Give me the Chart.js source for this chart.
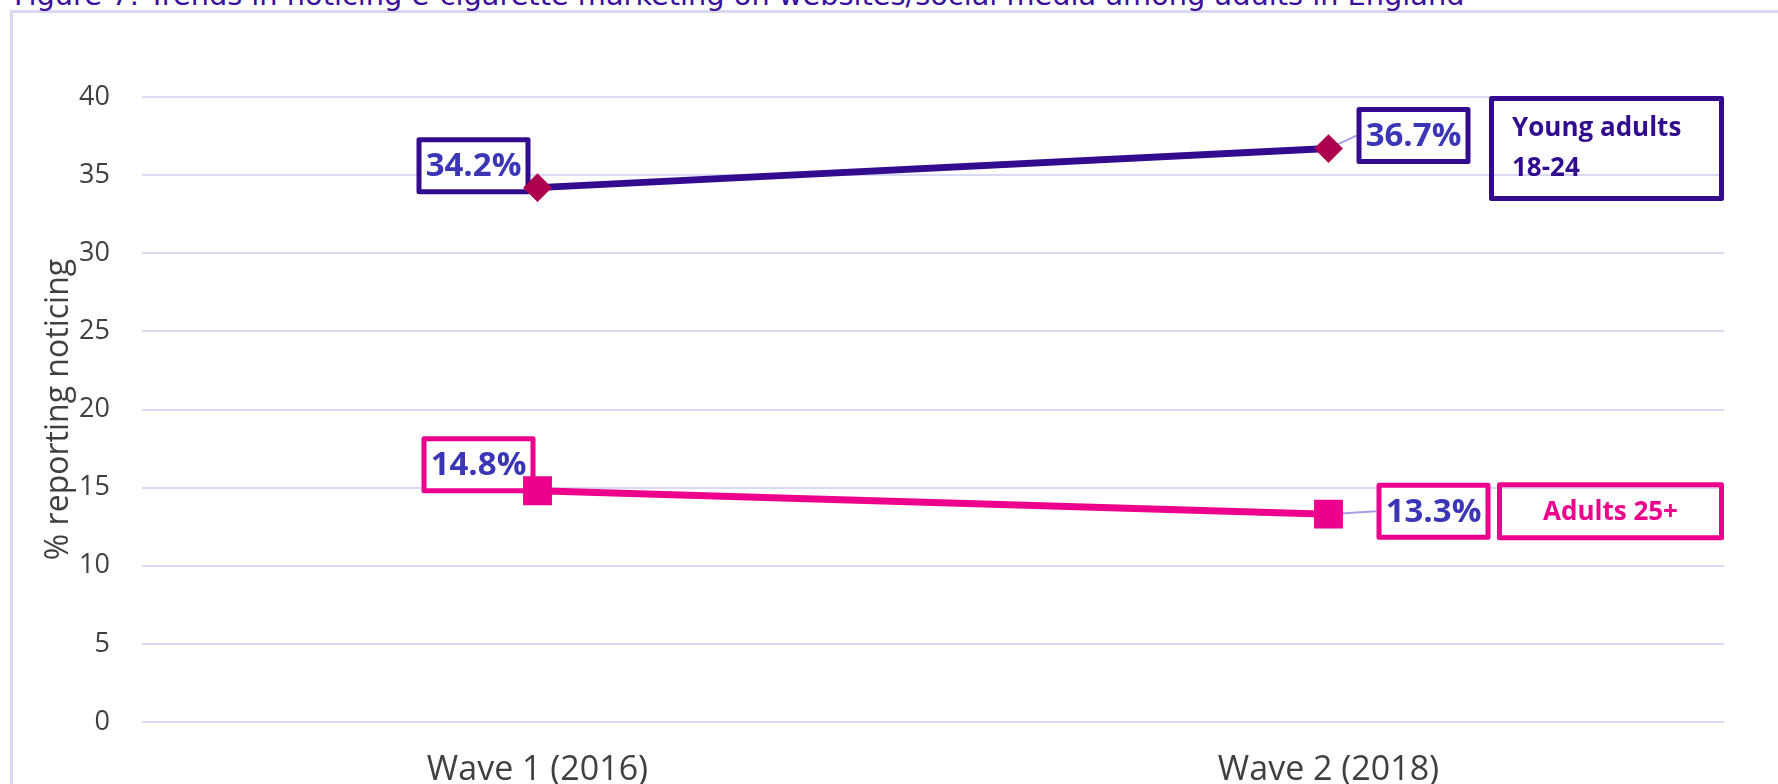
<!DOCTYPE html>
<html>
<head>
<meta charset="utf-8">
<script src="https://cdn.jsdelivr.net/npm/chart.js@4.4.1/dist/chart.umd.min.js"></script>
<style>
  html, body { margin: 0; padding: 0; background: #fff; overflow: hidden; }
  #page { position: relative; width: 1778px; height: 784px; overflow: hidden; }
  #frame { position: absolute; left: 10px; top: 10px; width: 1800px; height: 800px;
           border-left: 3px solid #d9d7f2; border-top: 3px solid #d9d7f2; }
  #figTitle { position: absolute; left: 14px; white-space: nowrap; color: #3a0f9c;
              font-family: 'DejaVu Sans'; }
  canvas { position: absolute; left: 0; top: 0; }
</style>
</head>
<body>
<div id="page">
  <div id="frame"></div>
  <div id="figTitle">Figure 7: Trends in noticing e-cigarette marketing on websites/social media among adults in England</div>
  <canvas id="trendChart" width="1778" height="784"></canvas>
</div>
<script>
// data
const waves = ['Wave 1 (2016)', 'Wave 2 (2018)'];
const youngAdults = [34.2, 36.7];
const adults25 = [14.8, 13.3];
const seriesNames = [['Young adults', '18-24'], ['Adults 25+']];
const yMin = 0, yMax = 40, yStep = 5;

const purple = '#330b8f';
const pink = '#ec008c';
const valueBlue = '#3b36b6';

// fit the (clipped) figure title to the width it has in the reference
function fitTitle() {
  const el = document.getElementById('figTitle');
  const c = document.createElement('canvas').getContext('2d');
  c.font = '28px "DejaVu Sans"';
  const w = c.measureText(el.textContent).width;
  const size = 28 * 1451 / w;
  el.style.fontSize = size + 'px';
  el.style.lineHeight = size + 'px';
  // baseline sits just above the frame, top half of the text is cut off
  el.style.top = (5 - (0.928 - 0.082) * size) + 'px';
}
fitTitle();

function drawBox(ctx, x, y, w, h, color, fill) {
  ctx.save();
  ctx.lineWidth = 5;
  ctx.strokeStyle = color;
  ctx.lineJoin = 'round';
  ctx.beginPath();
  ctx.rect(x + 2.5, y + 2.5, w - 5, h - 5);
  if (fill) { ctx.fillStyle = '#fff'; ctx.fill(); }
  ctx.stroke();
  ctx.restore();
}

// value boxes, leader lines and series name boxes (drawn under the markers)
const labelBoxes = {
  id: 'labelBoxes',
  beforeDatasetsDraw(chart) {
    const ctx = chart.ctx;
    const area = chart.chartArea;
    // offsets of each value box centre from its point: [dataset][index]
    const offsets = [
      [[-64, -22], [85, -13]],
      [[-59, -26], [105, -3]]
    ];
    const bw = 114, bh = 57;
    chart.data.datasets.forEach((ds, di) => {
      const meta = chart.getDatasetMeta(di);
      meta.data.forEach((pt, i) => {
        const cx = pt.x + offsets[di][i][0];
        const cy = pt.y + offsets[di][i][1];
        if (i === 1) {
          // leader line from the point to the box
          ctx.save();
          ctx.strokeStyle = '#a3a0e2';
          ctx.lineWidth = 2;
          ctx.beginPath();
          ctx.moveTo(pt.x, pt.y);
          ctx.lineTo(cx - bw / 2, cy);
          ctx.stroke();
          ctx.restore();
        }
        drawBox(ctx, cx - bw / 2, cy - bh / 2, bw, bh, ds.borderColor, true);
        ctx.save();
        ctx.fillStyle = valueBlue;
        ctx.font = 'bold 33px "Open Sans"';
        ctx.textAlign = 'center';
        ctx.textBaseline = 'middle';
        ctx.fillText(ds.data[i].toFixed(1) + '%', cx, cy + 1);
        ctx.restore();
      });

      // series name box at the right end of the line
      const last = meta.data[meta.data.length - 1];
      const lines = seriesNames[di];
      ctx.save();
      ctx.fillStyle = ds.borderColor;
      ctx.font = 'bold 26px "Open Sans"';
      if (lines.length > 1) {
        const w = 235, h = 105;
        const x = area.right - w, y = last.y - h / 2;
        drawBox(ctx, x, y, w, h, ds.borderColor, false);
        ctx.textAlign = 'left';
        ctx.textBaseline = 'alphabetic';
        lines.forEach((t, k) => ctx.fillText(t, x + 23, y + 40 + k * 40));
      } else {
        const w = 227, h = 58;
        const x = area.right - w, y = last.y - 3 - h / 2;
        drawBox(ctx, x, y, w, h, ds.borderColor, false);
        ctx.textAlign = 'center';
        ctx.textBaseline = 'middle';
        ctx.fillText(lines[0], x + w / 2, y + h / 2 + 1);
      }
      ctx.restore();
    });
  }
};

new Chart('trendChart', {
  type: 'line',
  data: {
    labels: waves,
    datasets: [{
      label: seriesNames[0].join(' '),
      data: youngAdults,
      borderColor: purple,
      borderWidth: 7,
      pointStyle: 'rectRot',
      pointRadius: 13,
      pointBackgroundColor: '#ad004e',
      pointBorderColor: '#ad004e',
      pointBorderWidth: 2
    }, {
      label: seriesNames[1][0],
      data: adults25,
      borderColor: pink,
      borderWidth: 7,
      pointStyle: 'rect',
      pointRadius: 19,
      pointBackgroundColor: pink,
      pointBorderColor: pink,
      pointBorderWidth: 2
    }]
  },
  options: {
    responsive: false,
    devicePixelRatio: 1,
    animation: false,
    layout: { padding: { left: 40, right: 54, top: 97, bottom: 0 } },
    plugins: {
      legend: { display: false },
      tooltip: { enabled: false }
    },
    scales: {
      x: {
        offset: true,
        grid: { display: false },
        border: { display: false },
        ticks: { color: '#404040', font: { family: 'Open Sans', size: 34 }, padding: 20 },
        afterFit(scale) { scale.height = 62; }
      },
      y: {
        min: yMin,
        max: yMax,
        ticks: { stepSize: yStep, color: '#404040', font: { family: 'Open Sans', size: 27 }, padding: 32 },
        grid: { color: '#d9d9f3', lineWidth: 2, drawTicks: false },
        border: { display: false },
        title: {
          display: true,
          text: '% reporting noticing',
          color: '#404040',
          font: { family: 'Open Sans', size: 32 },
          padding: 0
        },
        afterFit(scale) { scale.width = 102; }
      }
    }
  },
  plugins: [labelBoxes]
});
</script>
</body>
</html>
